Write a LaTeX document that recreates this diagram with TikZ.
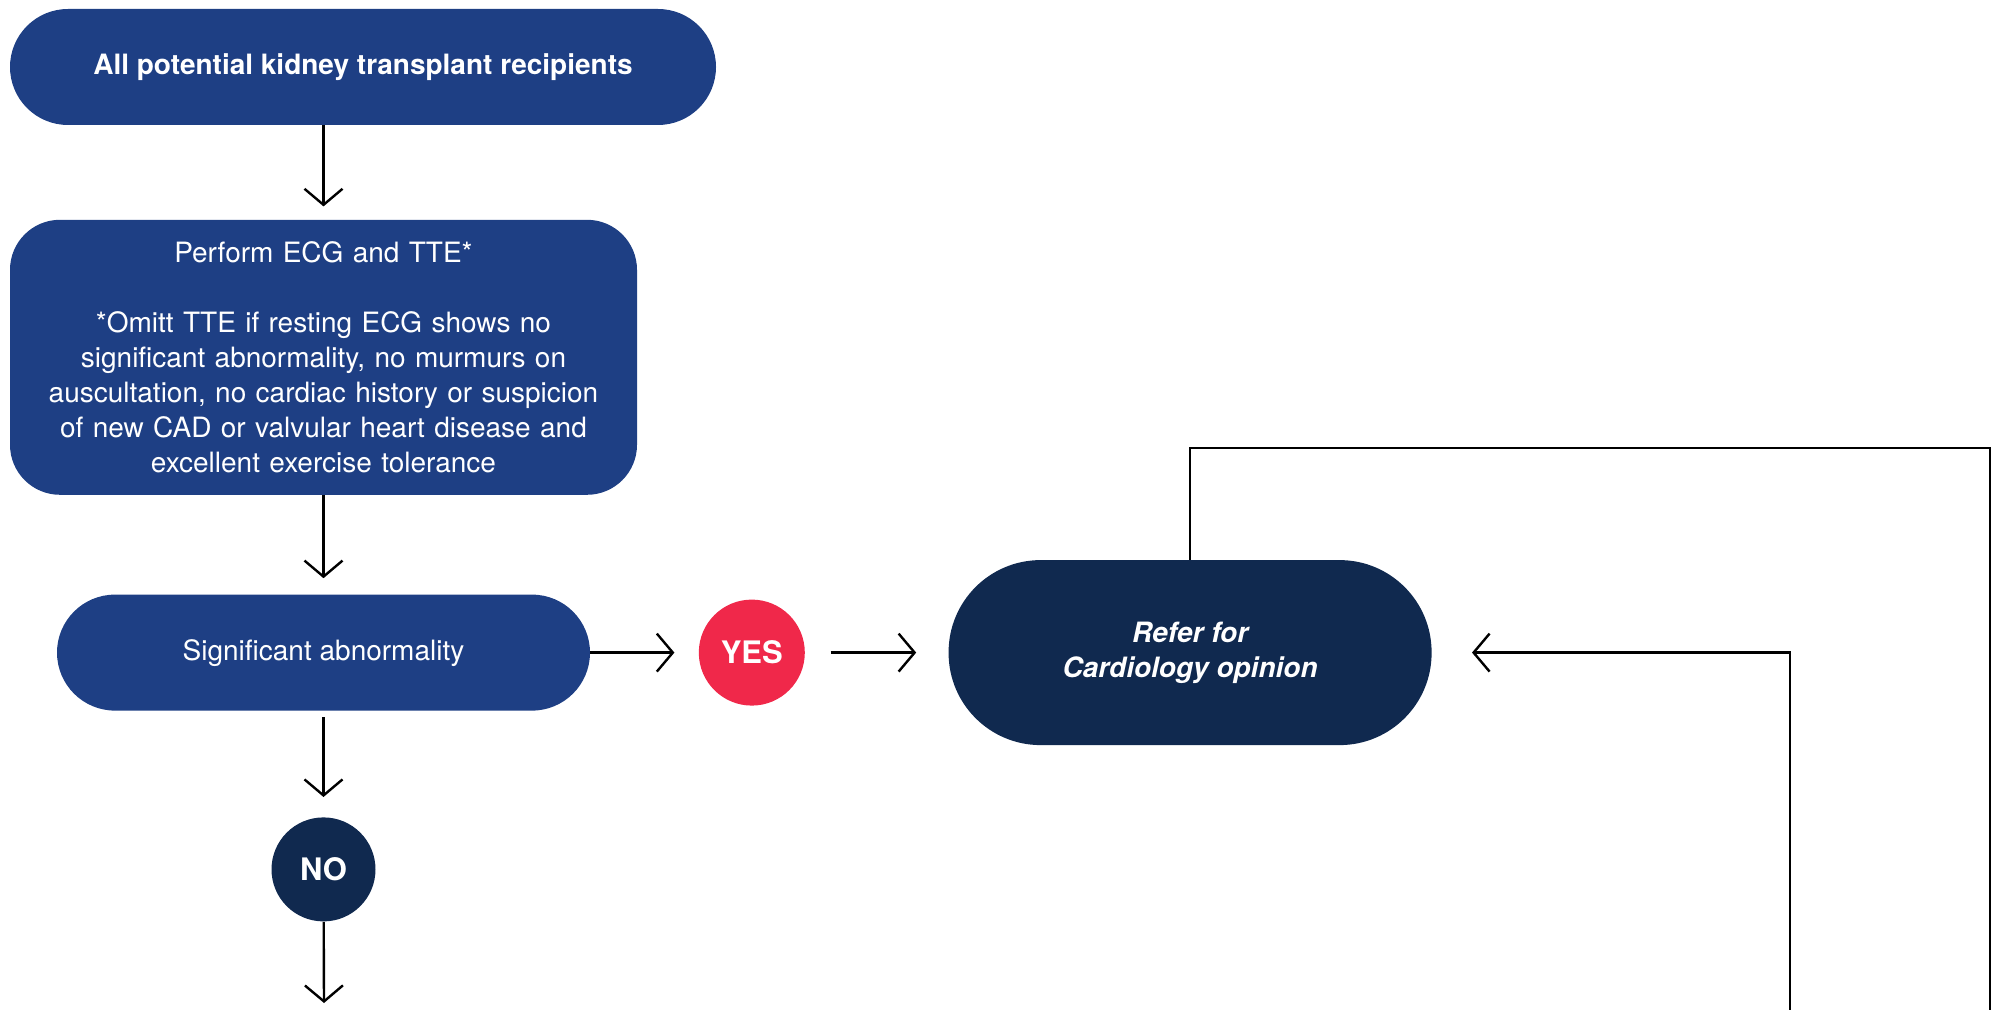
\documentclass[tikz,border=0pt]{standalone}
\usepackage{fontspec}
\setmainfont{TeX Gyre Heros}
\usetikzlibrary{arrows.meta,positioning}
\usetikzlibrary{shapes.geometric}
\definecolor{boxblue}{HTML}{1E3F84}
\definecolor{darknavy}{HTML}{10294F}
\definecolor{yesred}{HTML}{F0284A}
\tikzset{every picture/.style={/utils/exec={\fontsize{14}{17.5}\selectfont}}}

\begin{document}
\begin{tikzpicture}[node distance=50pt]
  \tikzstyle{pill} = [rectangle, rounded corners=29pt, minimum height=58pt, text centered, fill=boxblue, text=white, inner sep=0pt]
  \tikzstyle{note} = [rectangle, rounded corners=25pt, minimum height=137.5pt, minimum width=313.5pt, text width=300pt, align=center, fill=boxblue, text=white, inner sep=0pt]
  \tikzstyle{answer} = [circle, minimum size=53pt, inner sep=0pt, text=white, font=\bfseries\fontsize{15.5}{18}\selectfont]
  \tikzstyle{refer} = [rectangle, rounded corners=46pt, minimum height=92.5pt, minimum width=241.5pt, align=center, fill=darknavy, text=white, font=\bfseries\itshape]

  \tikzstyle{line} = [line width=1.2pt]
  \tikzstyle{arrow} = [line, -{Straight Barb[length=8pt,width=19pt]}]

  \useasboundingbox (0,0) rectangle (999pt,-505pt);

  \node (start) [pill, minimum width=353pt, font=\bfseries] at (181.5pt,-33.5pt) {All potential kidney transplant recipients};
  \node (ecg) [note, below=47pt of start.south west, anchor=north west] {Perform ECG and TTE*\\[17.5pt]
    *Omitt TTE if resting ECG shows no\\
    significant abnormality, no murmurs on\\
    auscultation, no cardiac history or suspicion\\
    of new CAD or valvular heart disease and\\
    excellent exercise tolerance};
  \node (abn) [pill, minimum width=266.5pt, below=49.5pt of ecg] {Significant abnormality};
  \node (yes) [answer, fill=yesred, right=54pt of abn] {YES};
  \node (cardio) [refer, right=71.5pt of yes] {Refer for\\Cardiology opinion};
  \node (no) [answer, fill=darknavy, minimum size=52pt, below=53pt of abn] {NO};

  \coordinate (noout) at (162pt,-501.5pt);
  \coordinate (loopcorner) at (995pt,-224pt);
  \coordinate (loopend) at (995pt,-505pt);
  \coordinate (backstart) at (895pt,-505pt);

  \draw [arrow, shorten >=6.5pt] (ecg.north |- start.south) -- (ecg.north);
  \draw [arrow, shorten >=8pt] (ecg) -- (abn);
  \draw [arrow, shorten >=12pt] (abn) -- (yes);
  \draw [arrow, shorten <=12.75pt, shorten >=16pt] (yes) -- (cardio);
  \draw [arrow, shorten <=3pt, shorten >=10pt] (abn) -- (no);
  \draw [arrow] (no) -- (noout);
  % up, across and down the right side
  \draw [line] (cardio.north) |- (loopcorner) -- (loopend);
  \draw [arrow, shorten >=20pt] (backstart) |- (cardio.east);
\end{tikzpicture}
\end{document}
